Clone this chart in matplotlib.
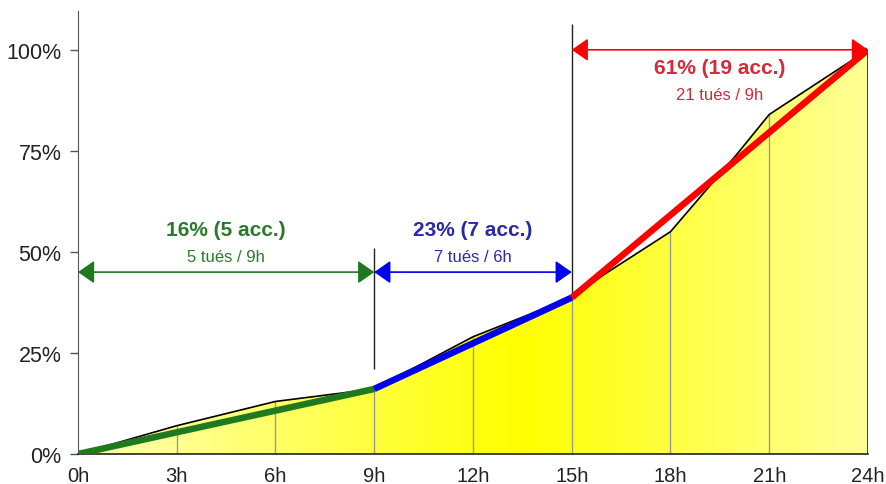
import numpy as np
import matplotlib
matplotlib.use("Agg")
import matplotlib.pyplot as plt
from matplotlib.patches import Polygon
from matplotlib.colors import LinearSegmentedColormap

# ---------------------------------------------------------------
#  DATA
# ---------------------------------------------------------------
hours   = [0, 3, 6, 9, 12, 15, 16, 18, 19, 20, 21, 24]
cum_pct = [0, 7.0, 13.0, 16.1, 29.0, 38.7, 44.5, 55.0, 64.5, 74.0, 84.0, 100.0]

x_ticks  = [0, 3, 6, 9, 12, 15, 18, 21, 24]
x_labels = ['0h', '3h', '6h', '9h', '12h', '15h', '18h', '21h', '24h']
y_ticks  = [0, 25, 50, 75, 100]
y_labels = ['0%', '25%', '50%', '75%', '100%']

# periods : start, end, title, subtitle
seg_start  = [0, 9, 15]
seg_end    = [9, 15, 24]
seg_title  = ['16% (5 acc.)', '23% (7 acc.)', '61% (19 acc.)']
seg_sub    = ['5 tués / 9h', '7 tués / 6h', '21 tués / 9h']
seg_colors = ['#1f7a1f', '#0000ee', '#ff0000']
txt_colors = ['#2a7a2a', '#2a2aa8', '#d42a3a']

# ---------------------------------------------------------------
#  PLOT
# ---------------------------------------------------------------
plt.rcParams['font.family'] = ['Liberation Sans', 'DejaVu Sans']

fig = plt.figure(figsize=(8.87, 4.85), dpi=100)
ax = fig.add_axes([78/887, 1 - 455/485, 790/887, 443/485])

cum_at = dict(zip(hours, cum_pct))

# gradient filled area under the curve
verts = [(0, 0)] + list(zip(hours, cum_pct)) + [(24, 0)]
poly = Polygon(verts, closed=True, facecolor='none', edgecolor='none')
ax.add_patch(poly)
cmap = LinearSegmentedColormap.from_list(
    'yel', [(0, '#ffffb8'), (0.56, '#ffff00'), (1, '#ffff96')])
grad = np.linspace(0, 1, 256).reshape(1, -1)
im = ax.imshow(grad, extent=[0, 24, 0, 100], aspect='auto', cmap=cmap,
               zorder=1)
im.set_clip_path(poly)

# vertical grid inside the area
inner = [h for h in x_ticks if 0 < h < 24]
ax.vlines(inner, 0, [cum_at[h] for h in inner], color='#9a9a9a',
          lw=1, zorder=2)
ax.vlines(24, 0, 100, color='#222222', lw=1.2, zorder=2)

# separators
ax.vlines(9, 21, 51, color='#222222', lw=1, zorder=2)
ax.vlines(15, cum_at[15], 106.5, color='#222222', lw=1, zorder=2)

# cumulative curve
ax.plot(hours, cum_pct, color='black', lw=1.2, zorder=3)

# thick period segments
for s, e, c in zip(seg_start, seg_end, seg_colors):
    ax.plot([s, e], [cum_at[s], cum_at[e]], color=c, lw=4.7,
            solid_capstyle='butt', zorder=4)

# arrows and labels
arrow_y = [45, 45, 100]
title_y = [55.5, 55.5, 95.5]
sub_y   = [48.8, 48.8, 89.0]
for i in range(3):
    ax.annotate('', xy=(seg_end[i], arrow_y[i]), xytext=(seg_start[i], arrow_y[i]),
                arrowprops=dict(arrowstyle='<|-|>,head_length=0.5,head_width=0.35',
                                color=seg_colors[i], lw=1.2, shrinkA=0, shrinkB=0,
                                mutation_scale=20),
                zorder=5)
    xc = (seg_start[i] + seg_end[i]) / 2
    ax.text(xc, title_y[i], seg_title[i], color=txt_colors[i], fontsize=15,
            fontweight='bold', ha='center', va='center', zorder=6)
    ax.text(xc, sub_y[i], seg_sub[i], color=txt_colors[i], fontsize=12,
            ha='center', va='center', zorder=6)

ax.set_xlim(0, 24)
ax.set_ylim(0, 109.6)
ax.set_xticks(x_ticks)
ax.set_xticklabels(x_labels, fontsize=14.5, color='#222222')
ax.set_yticks(y_ticks)
ax.set_yticklabels(y_labels, fontsize=15.5, color='#222222')
ax.tick_params(axis='x', length=0, pad=9)
ax.tick_params(axis='y', length=6, width=1, color='#555555', pad=6)
ax.spines['top'].set_visible(False)
ax.spines['right'].set_visible(False)
ax.spines['left'].set_color('#555555')
ax.spines['bottom'].set_color('#222222')
ax.spines['bottom'].set_linewidth(1.2)

fig.savefig('out.png', dpi=100, facecolor='white')
